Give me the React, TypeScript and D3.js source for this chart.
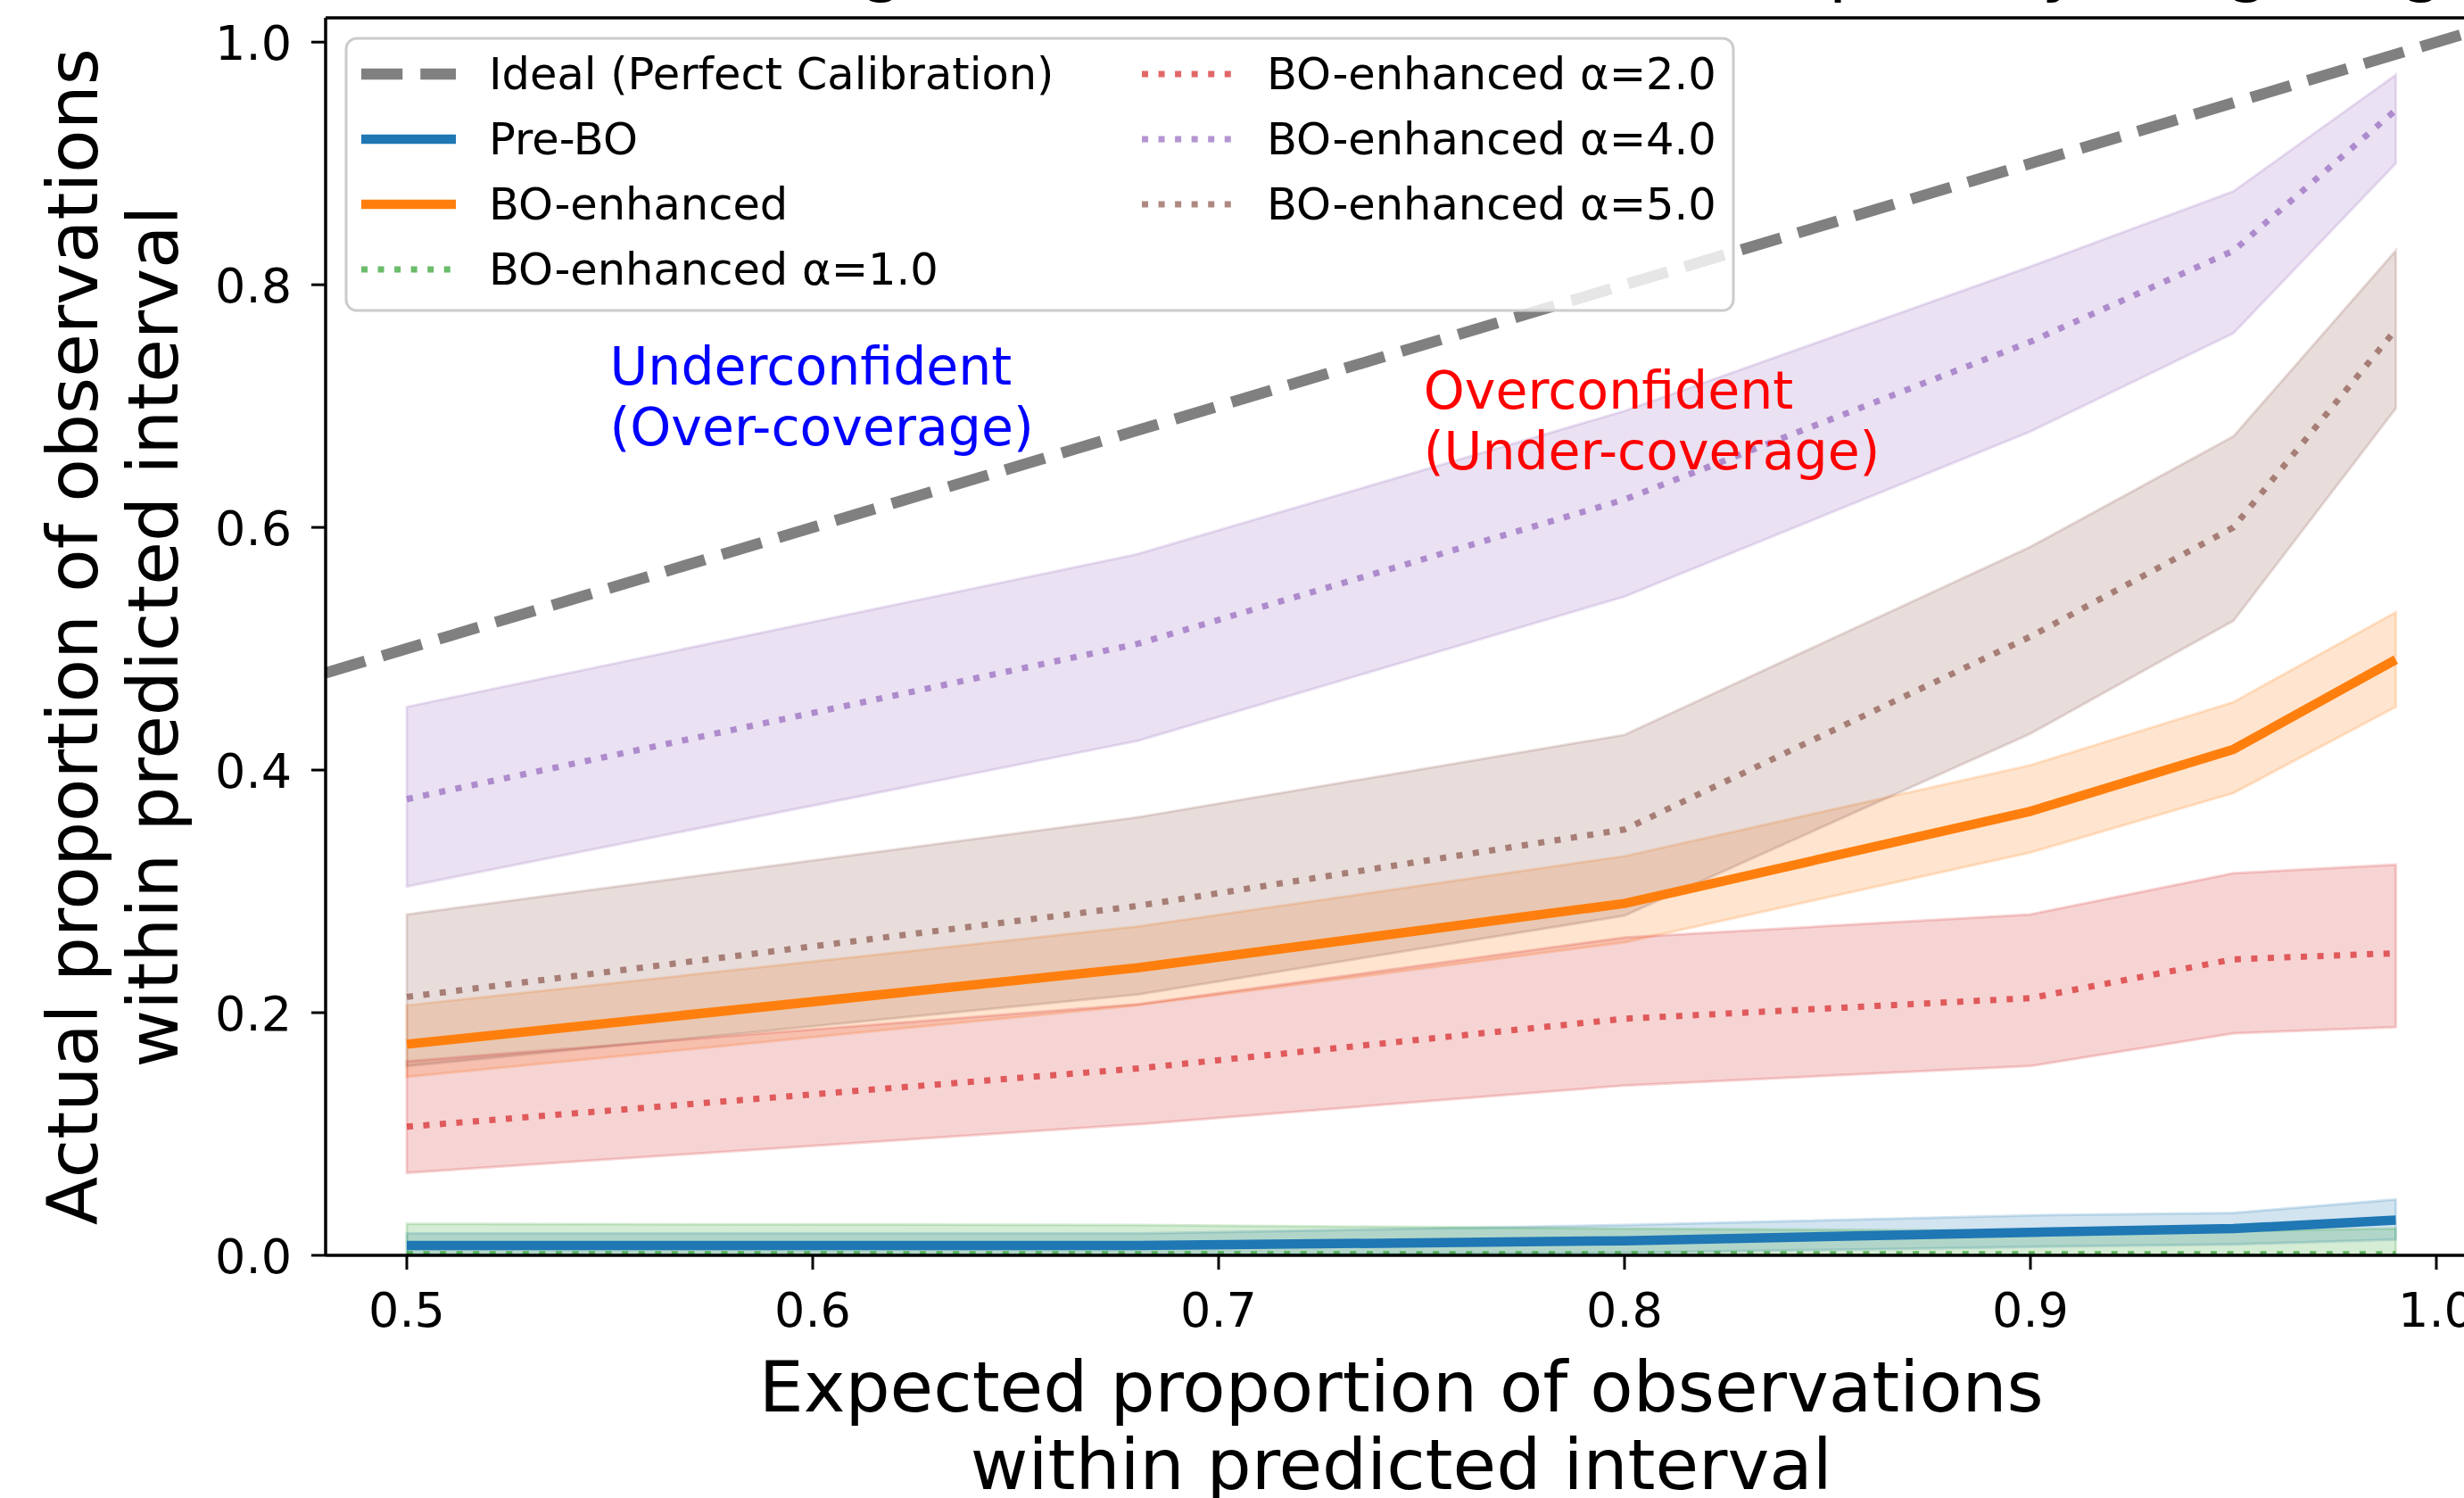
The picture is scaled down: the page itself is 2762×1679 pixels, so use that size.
import * as d3 from "d3";

const W = 2762;
const H = 1679;
const FONT = "DejaVu Sans, sans-serif";

// expected coverage levels (x)
const expected = [0.5, 0.68, 0.8, 0.9, 0.95, 0.99];

const preBoMean = [0.008, 0.008, 0.012, 0.019, 0.022, 0.029];
const preBoUpper = [0.018, 0.018, 0.025, 0.033, 0.035, 0.046];
const preBoLower = [0.0, 0.0, 0.002, 0.007, 0.009, 0.013];

const boMean = [0.174, 0.237, 0.29, 0.366, 0.417, 0.491];
const boUpper = [0.206, 0.271, 0.329, 0.404, 0.456, 0.53];
const boLower = [0.147, 0.206, 0.258, 0.332, 0.381, 0.452];

const a1Mean = [0.001, 0.001, 0.001, 0.001, 0.001, 0.001];
const a1Upper = [0.026, 0.025, 0.022, 0.02, 0.02, 0.022];
const a1Lower = [0.0, 0.0, 0.0, 0.0, 0.0, 0.0];

const a2Mean = [0.106, 0.154, 0.195, 0.212, 0.244, 0.249];
const a2Upper = [0.16, 0.207, 0.262, 0.281, 0.315, 0.322];
const a2Lower = [0.068, 0.108, 0.14, 0.156, 0.183, 0.188];

const a4Mean = [0.376, 0.504, 0.623, 0.753, 0.828, 0.944];
const a4Upper = [0.452, 0.578, 0.696, 0.815, 0.877, 0.973];
const a4Lower = [0.304, 0.424, 0.543, 0.679, 0.76, 0.9];

const a5Mean = [0.213, 0.288, 0.351, 0.51, 0.6, 0.763];
const a5Upper = [0.281, 0.361, 0.429, 0.584, 0.675, 0.828];
const a5Lower = [0.156, 0.215, 0.28, 0.43, 0.523, 0.698];

const xTicks = [0.5, 0.6, 0.7, 0.8, 0.9, 1.0];
const yTicks = [0.0, 0.2, 0.4, 0.6, 0.8, 1.0];

const series = [
  { label: "Pre-BO", color: "#1f77b4", mean: preBoMean, upper: preBoUpper, lower: preBoLower, dotted: false },
  { label: "BO-enhanced", color: "#ff7f0e", mean: boMean, upper: boUpper, lower: boLower, dotted: false },
  { label: "BO-enhanced α=1.0", color: "#2ca02c", mean: a1Mean, upper: a1Upper, lower: a1Lower, dotted: true },
  { label: "BO-enhanced α=2.0", color: "#d62728", mean: a2Mean, upper: a2Upper, lower: a2Lower, dotted: true },
  { label: "BO-enhanced α=4.0", color: "#9467bd", mean: a4Mean, upper: a4Upper, lower: a4Lower, dotted: true },
  { label: "BO-enhanced α=5.0", color: "#8c564b", mean: a5Mean, upper: a5Upper, lower: a5Lower, dotted: true },
];

const margin = { left: 365, top: 20, bottom: 1407 };

export default function App() {
  const x = d3.scaleLinear().domain([0.48, 1.01]).range([margin.left, margin.left + 0.53 * 4550]);
  const y = d3.scaleLinear().domain([0, 1.02]).range([margin.bottom, margin.top]);
  const [x0, x1] = x.range();

  const line = d3
    .line<number>()
    .x((_, i) => x(expected[i]))
    .y((d) => y(d));

  const solidW = 10.5;
  const dotW = 7;
  const dotDash = `${dotW} ${dotW * 1.65}`;
  const idealW = 12.5;
  const idealDash = `${idealW * 3.7} ${idealW * 1.6}`;

  // legend layout
  const lgX = 388;
  const lgY = 43;
  const rowH = 73;
  const legendItems = [
    { label: "Ideal (Perfect Calibration)", kind: "ideal", color: "#808080" },
    ...series.map((s) => ({ label: s.label, kind: s.dotted ? "dot" : "solid", color: s.color })),
  ];

  return (
    <svg
      width={W}
      height={H}
      style={{ position: "absolute", left: 0, top: 0, background: "#fff" }}
      fontFamily={FONT}
    >
      <defs>
        <clipPath id="plot">
          <rect x={x0} y={margin.top} width={x1 - x0} height={margin.bottom - margin.top} />
        </clipPath>
      </defs>
      <rect width={W} height={H} fill="#fff" />

      {/* title, mostly cut off by the frame */}
      <text x={(x0 + x1) / 2} y={-13} fontSize={76} textAnchor="middle" fill="#000">
        Calibration Diagram (Mean over Seeds): Impact by Weighting
      </text>

      <g clipPath="url(#plot)">
        <line
          x1={x(0.48)}
          y1={y(0.48)}
          x2={x(1.01)}
          y2={y(1.01)}
          stroke="#808080"
          strokeWidth={idealW}
          strokeDasharray={idealDash}
        />
        {series.map((s) => {
          const area = d3
            .area<number>()
            .x((_, i) => x(expected[i]))
            .y0((_, i) => y(s.lower[i]))
            .y1((d) => y(d));
          return (
            <path
              key={"band" + s.label}
              d={area(s.upper) ?? ""}
              fill={s.color}
              fillOpacity={0.2}
              stroke={s.color}
              strokeOpacity={0.2}
              strokeWidth={3}
            />
          );
        })}
        {series.map((s) => (
          <path
            key={"line" + s.label}
            d={line(s.mean) ?? ""}
            fill="none"
            stroke={s.color}
            strokeOpacity={s.dotted ? 0.7 : 1}
            strokeWidth={s.dotted ? dotW : solidW}
            strokeDasharray={s.dotted ? dotDash : undefined}
            strokeLinejoin="round"
          />
        ))}
      </g>

      {/* annotations */}
      <text fill="#0000ff" fontSize={58.5}>
        <tspan x={x(0.55)} y={y(0.718)}>Underconfident</tspan>
        <tspan x={x(0.55)} y={y(0.718) + 68}>(Over-coverage)</tspan>
      </text>
      <text fill="#ff0000" fontSize={58.5}>
        <tspan x={x(0.7505)} y={y(0.698)}>Overconfident</tspan>
        <tspan x={x(0.7505)} y={y(0.698) + 68}>(Under-coverage)</tspan>
      </text>

      {/* spines */}
      <g stroke="#000" strokeWidth={3.5} fill="none">
        <line x1={x0} y1={margin.top} x2={x0} y2={margin.bottom} />
        <line x1={x0} y1={margin.bottom} x2={x1} y2={margin.bottom} />
        <line x1={x0} y1={margin.top} x2={x1} y2={margin.top} />
        <line x1={x1} y1={margin.top} x2={x1} y2={margin.bottom} />
      </g>

      {/* x axis */}
      {xTicks.map((t) => (
        <g key={"x" + t}>
          <line x1={x(t)} x2={x(t)} y1={margin.bottom} y2={margin.bottom + 16} stroke="#000" strokeWidth={3} />
          <text x={x(t)} y={margin.bottom + 80} fontSize={54} textAnchor="middle">
            {t.toFixed(1)}
          </text>
        </g>
      ))}
      {/* y axis */}
      {yTicks.map((t) => (
        <g key={"y" + t}>
          <line x1={x0 - 16} x2={x0} y1={y(t)} y2={y(t)} stroke="#000" strokeWidth={3} />
          <text x={x0 - 38} y={y(t) + 20} fontSize={54} textAnchor="end">
            {t.toFixed(1)}
          </text>
        </g>
      ))}

      {/* axis labels */}
      <text fontSize={79} textAnchor="middle">
        <tspan x={(x0 + x1) / 2} y={1582}>Expected proportion of observations</tspan>
        <tspan x={(x0 + x1) / 2} y={1669}>within predicted interval</tspan>
      </text>
      <text fontSize={79} textAnchor="middle" transform={`translate(0,${(margin.top + margin.bottom) / 2}) rotate(-90)`}>
        <tspan x={0} y={109}>Actual proportion of observations</tspan>
        <tspan x={0} y={199}>within predicted interval</tspan>
      </text>

      {/* legend */}
      <rect
        x={lgX}
        y={lgY}
        width={1555}
        height={305}
        rx={12}
        fill="#fff"
        fillOpacity={0.8}
        stroke="#cccccc"
        strokeWidth={3}
      />
      {legendItems.map((it, i) => {
        const col = i < 4 ? 0 : 1;
        const row = i < 4 ? i : i - 4;
        const hx = col === 0 ? 405 : 1280;
        const tx = col === 0 ? 548 : 1420;
        const cy = 83 + row * rowH;
        let handle;
        if (it.kind === "ideal") {
          handle = (
            <line x1={hx} x2={hx + 106} y1={cy} y2={cy} stroke={it.color} strokeWidth={idealW} strokeDasharray={idealDash} />
          );
        } else if (it.kind === "solid") {
          handle = <line x1={hx} x2={hx + 106} y1={cy} y2={cy} stroke={it.color} strokeWidth={solidW} />;
        } else {
          handle = (
            <line
              x1={hx}
              x2={hx + 100}
              y1={cy}
              y2={cy}
              stroke={it.color}
              strokeOpacity={0.7}
              strokeWidth={dotW}
              strokeDasharray={dotDash}
            />
          );
        }
        return (
          <g key={it.label}>
            {handle}
            <text x={tx} y={cy + 17} fontSize={49.5}>
              {it.label}
            </text>
          </g>
        );
      })}
    </svg>
  );
}
